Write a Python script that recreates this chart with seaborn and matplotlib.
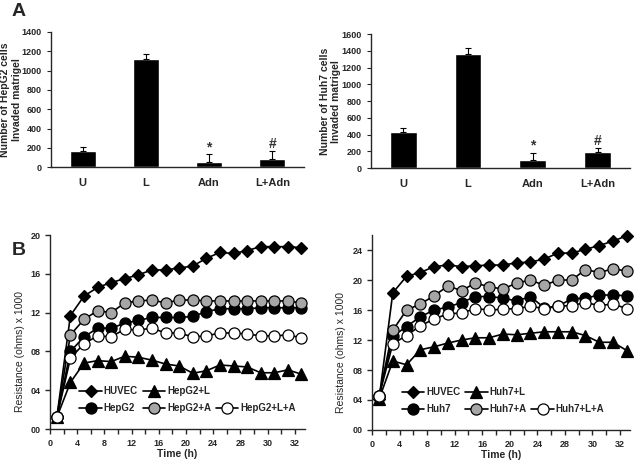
"""
Invasion assay bars (A) and resistance time courses (B)
"""

import matplotlib
matplotlib.use('Agg')
import matplotlib.pyplot as plt
from matplotlib.lines import Line2D
from matplotlib.ticker import MultipleLocator, FuncFormatter
import seaborn as sns
import pandas as pd

sns.set_style("ticks")
plt.rcParams['font.family'] = ['Liberation Sans', 'DejaVu Sans']
plt.rcParams['font.weight'] = 'bold'
plt.rcParams['axes.linewidth'] = 1.0

# ---- data: panel A ----
groups = ['U', 'L', 'Adn', 'L+Adn']
hepg2_counts = [172, 1120, 50, 85]
hepg2_err = [40, 55, 85, 85]
huh7_counts = [428, 1368, 98, 188]
huh7_err = [47, 67, 87, 50]
marks = ['', '', '*', '#']

# ---- data: panel B ----
time_h = [1, 3, 5, 7, 9, 11, 13, 15, 17, 19, 21, 23, 25, 27, 29, 31, 33, 35, 37]
time_ticks = [0, 4, 8, 12, 16, 20, 24, 28, 32, 36]
time_labels = ['0', '4', '8', '12', '16', '20', '24', '28', '30', '32']

left_huvec = [1.2, 11.7, 13.7, 14.6, 15.1, 15.5, 15.9, 16.4, 16.4, 16.6, 16.8,
              17.6, 18.2, 18.1, 18.4, 18.8, 18.8, 18.8, 18.7]
left_cells = [1.2, 8.0, 9.5, 10.4, 10.4, 10.9, 11.2, 11.5, 11.5, 11.5, 11.6,
              12.1, 12.4, 12.4, 12.4, 12.5, 12.5, 12.5, 12.5]
left_cells_a = [1.2, 9.7, 11.3, 12.2, 12.0, 13.0, 13.2, 13.3, 13.0, 13.3, 13.3,
                13.2, 13.2, 13.2, 13.2, 13.2, 13.2, 13.2, 13.0]
left_cells_la = [1.2, 7.3, 8.8, 9.6, 9.5, 10.3, 10.2, 10.4, 9.9, 9.9, 9.5,
                 9.6, 9.9, 9.9, 9.8, 9.6, 9.6, 9.7, 9.4]
left_cells_l = [1.2, 4.8, 6.8, 7.05, 6.95, 7.5, 7.4, 7.1, 6.7, 6.5, 5.75,
                6.0, 6.6, 6.5, 6.4, 5.8, 5.8, 6.1, 5.65]

right_huvec = [4.1, 18.3, 20.5, 21.0, 21.8, 22.0, 21.8, 21.9, 22.0, 22.0, 22.3,
               22.4, 22.8, 23.6, 23.6, 24.1, 24.6, 25.2, 25.9]
right_cells = [4.5, 12.5, 13.8, 15.1, 16.0, 16.4, 17.0, 17.8, 17.8, 17.6, 17.2,
               17.8, 16.3, 16.5, 17.5, 17.6, 18.0, 18.0, 17.9]
right_cells_a = [4.5, 13.3, 16.0, 16.8, 17.9, 19.2, 18.6, 19.6, 19.1, 18.8, 19.6,
                 20.0, 19.3, 20.0, 20.0, 21.4, 21.0, 21.5, 21.2]
right_cells_la = [4.5, 11.5, 12.6, 13.9, 14.8, 15.5, 15.6, 16.2, 16.0, 16.1, 16.2,
                  16.5, 16.2, 16.5, 16.6, 17.0, 16.6, 16.8, 16.2]
right_cells_l = [4.1, 9.2, 8.7, 10.7, 11.1, 11.6, 12.0, 12.3, 12.3, 12.8, 12.7,
                 12.9, 13.1, 13.1, 13.1, 12.6, 11.7, 11.7, 10.6]

TICK_FS = 6.5


def plot_bars(ax, counts, errs, ylabel, ymax):
    df = pd.DataFrame({'group': groups, 'count': counts})
    sns.barplot(data=df, x='group', y='count', color='black', width=0.41,
                saturation=1, errorbar=None, ax=ax)
    ax.errorbar(range(len(groups)), counts, yerr=[[0] * len(errs), errs],
                fmt='none', ecolor='black', elinewidth=0.8, capsize=2.5, capthick=0.8)
    for i, m in enumerate(marks):
        if m:
            ax.text(i, counts[i] + errs[i], m, ha='center', va='bottom',
                    fontsize=10, color='#333333')
    ax.set_xlim(-0.5, 3.5)
    ax.set_ylim(0, ymax)
    ax.yaxis.set_major_locator(MultipleLocator(200))
    ax.set_xlabel('')
    ax.set_ylabel(ylabel, fontsize=7.5, fontweight='bold')
    ax.yaxis.set_label_coords(-0.115, 0.5)
    ax.tick_params(axis='x', length=0, labelsize=8, pad=8)
    ax.tick_params(axis='y', length=3, labelsize=TICK_FS, direction='out')
    for lab in ax.get_xticklabels() + ax.get_yticklabels():
        lab.set_fontweight('bold')
    sns.despine(ax=ax)


def plot_course(ax, series, names, ymax):
    styles = [('D', 'black', 6.5), ('^', 'black', 8), ('o', 'black', 8),
              ('o', '#a6a6a6', 8), ('o', 'white', 8)]
    for vals, name, (mk, fc, ms) in zip(series, names, styles):
        sns.lineplot(x=time_h, y=vals, ax=ax, color='black', linewidth=1.2,
                     marker=mk, markersize=ms, markerfacecolor=fc,
                     markeredgecolor='black', markeredgewidth=0.9, clip_on=False)
    handles = []
    for name, (mk, fc, ms) in zip(names, styles):
        handles.append(Line2D([], [], color='black', linewidth=1.2, marker=mk,
                              markersize=ms, markerfacecolor=fc,
                              markeredgecolor='black', markeredgewidth=0.9))
    blank = Line2D([], [], linestyle='none')
    order_h = [handles[0], handles[2], handles[1], handles[3], blank, handles[4]]
    order_l = [names[0], names[2], names[1], names[3], '', names[4]]
    ax.legend(order_h, order_l, ncol=3, loc='lower left',
              bbox_to_anchor=(0.1, 0.06), frameon=False, fontsize=7,
              handlelength=2.3, handletextpad=0.2, columnspacing=0.5,
              labelspacing=0.75, borderaxespad=0)
    ax.set_xlim(0, 37.5)
    ax.set_ylim(0, ymax)
    ax.set_xticks(time_ticks)
    ax.set_xticklabels(time_labels)
    ax.xaxis.set_minor_locator(MultipleLocator(2))
    ax.yaxis.set_major_locator(MultipleLocator(4))
    ax.yaxis.set_major_formatter(FuncFormatter(lambda v, p: f'{int(v):02d}'))
    ax.tick_params(axis='both', which='major', length=3.5, labelsize=TICK_FS,
                   direction='out', width=1)
    ax.tick_params(axis='x', which='minor', length=3.5, direction='out', width=1)
    for lab in ax.get_xticklabels() + ax.get_yticklabels():
        lab.set_fontweight('bold')
    ax.set_xlabel('Time (h)', fontsize=7.5, fontweight='bold', labelpad=1)
    ax.set_ylabel('Resistance (ohms) x 1000', fontsize=7.5, fontweight='normal')
    ax.yaxis.set_label_coords(-0.1, 0.4)
    sns.despine(ax=ax)


fig = plt.figure(figsize=(6.34, 4.63), dpi=100)
ax_a1 = fig.add_axes([0.0804, 0.639, 0.399, 0.292])
ax_a2 = fig.add_axes([0.585, 0.637, 0.4085, 0.289])
ax_b1 = fig.add_axes([0.0789, 0.0734, 0.402, 0.419])
ax_b2 = fig.add_axes([0.587, 0.0713, 0.407, 0.421])

plot_bars(ax_a1, hepg2_counts, hepg2_err, 'Number of HepG2 cells\nInvaded matrigel', 1400)
plot_bars(ax_a2, huh7_counts, huh7_err, 'Number of Huh7 cells\nInvaded matrigel', 1600)

plot_course(ax_b1, [left_huvec, left_cells_l, left_cells, left_cells_a, left_cells_la],
            ['HUVEC', 'HepG2+L', 'HepG2', 'HepG2+A', 'HepG2+L+A'], 20)
plot_course(ax_b2, [right_huvec, right_cells_l, right_cells, right_cells_a, right_cells_la],
            ['HUVEC', 'Huh7+L', 'Huh7', 'Huh7+A', 'Huh7+L+A'], 26)

fig.text(0.018, 0.965, 'A', fontsize=14, fontweight='bold')
fig.text(0.018, 0.45, 'B', fontsize=14, fontweight='bold')

plt.savefig('out.png', dpi=100)
plt.close()
